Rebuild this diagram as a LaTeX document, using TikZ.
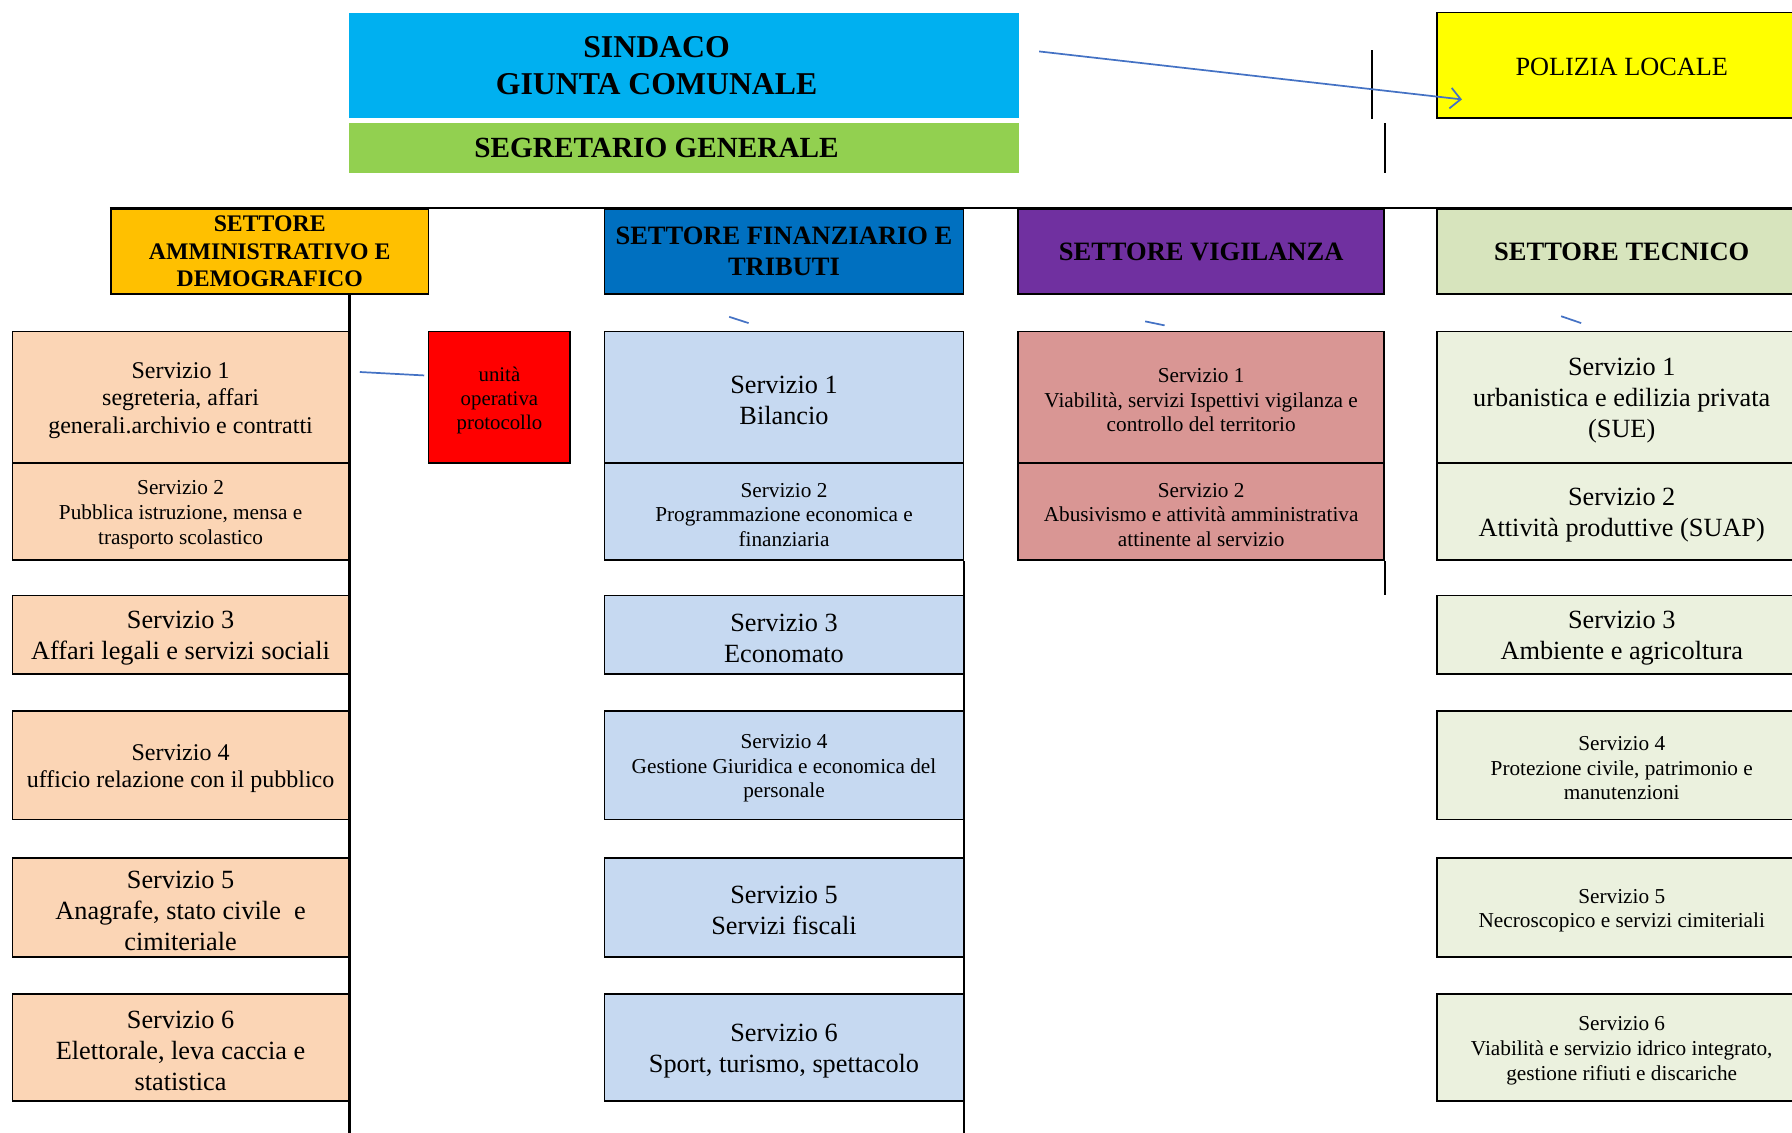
\documentclass[tikz,border=0pt]{standalone}
\usepackage{fontspec}
\setmainfont{Liberation Serif}
\usetikzlibrary{arrows.meta,calc}

\definecolor{sindacoblue}{HTML}{00B0F0}
\definecolor{segrgreen}{HTML}{92D050}
\definecolor{polyellow}{HTML}{FFFF00}
\definecolor{ammorange}{HTML}{FFC000}
\definecolor{finblue}{HTML}{0070C0}
\definecolor{vigpurple}{HTML}{7030A0}
\definecolor{tecgreen}{HTML}{D7E4BD}
\definecolor{ammlight}{HTML}{FBD5B5}
\definecolor{finlight}{HTML}{C6D9F1}
\definecolor{viglight}{HTML}{D99694}
\definecolor{teclight}{HTML}{EBF1DE}
\definecolor{linkblue}{HTML}{4472C4}

\newcommand{\txtL}{\fontsize{23}{27}\selectfont}
\newcommand{\txtM}{\fontsize{21}{24}\selectfont}
\newcommand{\txtS}{\fontsize{18.6}{21.5}\selectfont}
% first line of a box, pushed a little down
\newcommand{\lowstrut}{\rule{0pt}{\dimexpr0.7em+5pt\relax}}
\newcommand{\serv}[1]{\lowstrut Servizio #1}

\tikzset{
  unitbox/.style={draw, line width=1.6pt, inner sep=0pt, align=center},
  colL/.style={unitbox, fill=ammlight, minimum width=294pt},
  colF/.style={unitbox, fill=finlight, minimum width=314pt},
  colV/.style={unitbox, fill=viglight, minimum width=320pt},
  colT/.style={unitbox, fill=teclight, minimum width=324pt},
  settore/.style={unitbox, minimum height=74pt, font=\bfseries\fontsize{23.2}{27}\selectfont},
  bus/.style={line width=1.8pt},
  link/.style={draw=linkblue, line width=1.5pt}
}

\begin{document}
\begin{tikzpicture}[x=1pt,y=-1pt]
  \useasboundingbox (0,0) rectangle (1568,991);
  \clip (0,0) rectangle (1568,991);

  %% vertice
  \node[fill=sindacoblue, minimum width=587pt, minimum height=92pt] (sindaco) at (598.5,57) {};
  \node[align=center, font=\bfseries\fontsize{27.8}{32}\selectfont] (sindacotxt) at (574.5,57.5) {SINDACO\\GIUNTA COMUNALE};
  \node[fill=segrgreen, minimum width=587pt, minimum height=43pt] (segretario) at (598.5,129.5) {};
  \node[font=\bfseries\fontsize{25.6}{30}\selectfont] (segretariotxt) at (574.5,129.5) {SEGRETARIO GENERALE};
  \node[unitbox, fill=polyellow, minimum width=324pt, minimum height=92pt, font=\txtL] (polizia) at (1419,57) {\rule{0pt}{\dimexpr0.7em+2pt\relax}POLIZIA LOCALE};

  %% settori
  \node[settore, fill=ammorange, minimum width=278pt, font=\bfseries\fontsize{20.8}{24}\selectfont] (amm) at (236,220) {SETTORE\\AMMINISTRATIVO E\\DEMOGRAFICO};
  \node[settore, fill=finblue, minimum width=314pt] (fin) at (686,220) {SETTORE FINANZIARIO E\\TRIBUTI};
  \node[settore, fill=vigpurple, minimum width=320pt] (vig) at (1051,220) {SETTORE VIGILANZA};
  \node[settore, fill=tecgreen, minimum width=324pt] (tec) at (1419,220) {SETTORE TECNICO};

  %% servizi
  % amministrativo e demografico
  \node[colL, minimum height=115pt, font=\txtM] (amm1) at (158,347.5) {\serv{1}\\segreteria, affari\\generali.archivio e contratti};
  \node[colL, minimum height=85pt, font=\txtS] (amm2) at (158,447.5) {\serv{2}\\Pubblica istruzione, mensa e\\trasporto scolastico};
  \node[colL, minimum height=69pt, font=\txtL] (amm3) at (158,555.5) {\serv{3}\\Affari legali e servizi sociali};
  \node[colL, minimum height=95pt, font=\txtM] (amm4) at (158,669.5) {\serv{4}\\ufficio relazione con il pubblico};
  \node[colL, minimum height=86pt, font=\txtL] (amm5) at (158,794) {\serv{5}\\Anagrafe, stato civile~ e\\cimiteriale};
  \node[colL, minimum height=93pt, font=\txtL] (amm6) at (158,916.5) {\serv{6}\\Elettorale, leva caccia e\\statistica};
  \node[unitbox, fill=red, minimum width=124pt, minimum height=115pt, font=\fontsize{18.2}{21}\selectfont] (unita) at (437,347.5) {\lowstrut unità\\operativa\\protocollo};

  % finanziario e tributi
  \node[colF, minimum height=115pt, font=\txtL] (fin1) at (686,347.5) {\serv{1}\\Bilancio};
  \node[colF, minimum height=85pt, font=\txtS] (fin2) at (686,447.5) {\serv{2}\\Programmazione economica e\\finanziaria};
  \node[colF, minimum height=69pt, font=\txtL] (fin3) at (686,555.5) {\serv{3}\\Economato};
  \node[colF, minimum height=95pt, font=\txtS] (fin4) at (686,669.5) {\serv{4}\\Gestione Giuridica e economica del\\personale};
  \node[colF, minimum height=86pt, font=\txtL] (fin5) at (686,794) {\serv{5}\\Servizi fiscali};
  \node[colF, minimum height=93pt, font=\txtL] (fin6) at (686,916.5) {\serv{6}\\Sport, turismo, spettacolo};

  % vigilanza
  \node[colV, minimum height=115pt, font=\txtS] (vig1) at (1051,347.5) {\serv{1}\\Viabilità, servizi Ispettivi vigilanza e\\controllo del territorio};
  \node[colV, minimum height=85pt, font=\txtS] (vig2) at (1051,447.5) {\serv{2}\\Abusivismo e attività amministrativa\\attinente al servizio};

  % tecnico
  \node[colT, minimum height=115pt, font=\txtL] (tec1) at (1419,347.5) {\serv{1}\\urbanistica e edilizia privata\\(SUE)};
  \node[colT, minimum height=85pt, font=\txtL] (tec2) at (1419,447.5) {\serv{2}\\Attività produttive (SUAP)};
  \node[colT, minimum height=69pt, font=\txtL] (tec3) at (1419,555.5) {\serv{3}\\Ambiente e agricoltura};
  \node[colT, minimum height=95pt, font=\txtS] (tec4) at (1419,669.5) {\serv{4}\\Protezione civile, patrimonio e\\manutenzioni};
  \node[colT, minimum height=86pt, font=\txtS] (tec5) at (1419,794) {\serv{5}\\Necroscopico e servizi cimiteriali};
  \node[colT, minimum height=93pt, font=\txtS] (tec6) at (1419,916.5) {\serv{6}\\Viabilità e servizio idrico integrato,\\gestione rifiuti e discariche};

  %% linee
  \coordinate (bottom) at (0,991);
  \draw[bus] (amm.north west) -- (tec.north east);
  \draw[bus] (amm1.east |- amm.south) -- (amm1.east |- bottom);
  \draw[bus] (fin2.south east) -- (fin2.south east |- bottom);
  \draw[bus] (vig2.south east) -- ++(0,30);
  \draw[bus] (vig.north east |- segretario.north) -- (vig.north east |- segretario.south);
  \draw[bus] ($(polizia.south west)+(-56,0)$) -- ++(0,-60);

  % collegamenti blu
  \coordinate (arrS) at ($(sindaco.east)+(17,-12)$);
  \coordinate (arrE) at ($(polizia.west)+(23,30)$);
  \draw[link, -{Straight Barb[length=9pt,width=18pt]}] (arrS) -- (arrE);
  \draw[link] ($(amm1.east)+(9,-22)$) -- ($(unita.west)+(-3,-19)$);
  \draw[link] ($(fin1.north)+(-48,-12)$) -- ++(17,5.5);
  \draw[link] ($(vig1.north)+(-49,-8)$) -- ++(17,3.5);
  \draw[link] ($(tec1.north)+(-53,-12.5)$) -- ++(17.5,6);
\end{tikzpicture}
\end{document}
